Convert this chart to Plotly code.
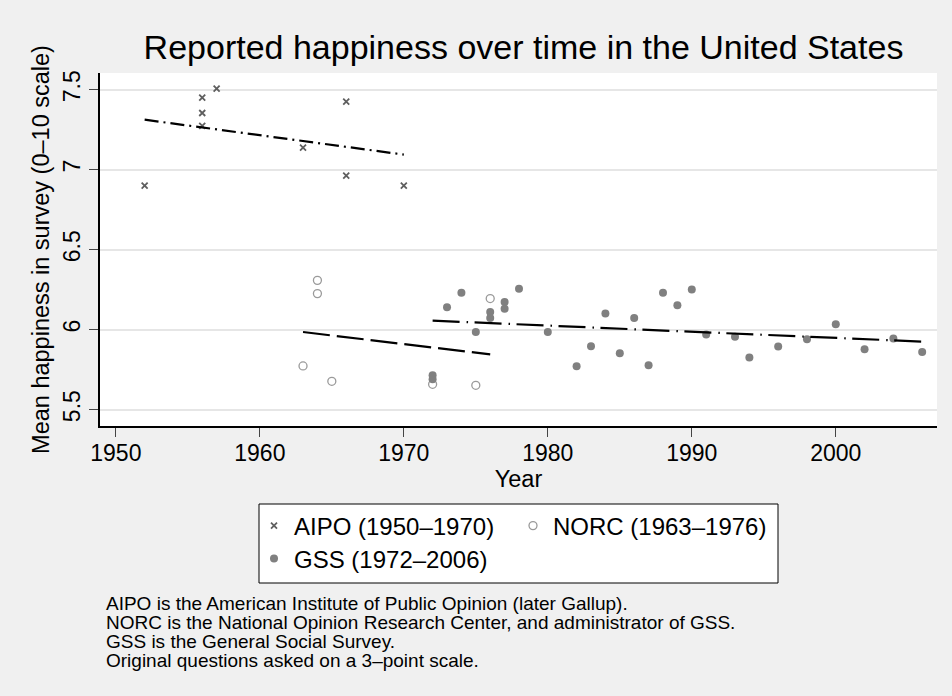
import plotly.graph_objects as go

# ---------------- data ----------------
aipo_year = [1952, 1956, 1956, 1956, 1957, 1963, 1966, 1966, 1970]
aipo_happy = [6.90, 7.45, 7.354, 7.273, 7.506, 7.137, 7.425, 6.963, 6.90]

norc_year = [1963, 1964, 1964, 1965, 1972, 1975, 1976]
norc_happy = [5.773, 6.308, 6.225, 5.677, 5.658, 5.652, 6.194]

gss_year = [1972, 1972, 1973, 1974, 1975, 1976, 1976, 1977, 1977, 1978, 1980,
            1982, 1983, 1984, 1985, 1986, 1987, 1988, 1989, 1990, 1991, 1993,
            1994, 1996, 1998, 2000, 2002, 2004, 2006]
gss_happy = [5.715, 5.69, 6.139, 6.231, 5.985, 6.110, 6.073, 6.173, 6.131, 6.256,
             5.985, 5.771, 5.896, 6.100, 5.852, 6.073, 5.777, 6.231, 6.153, 6.250,
             5.969, 5.956, 5.825, 5.894, 5.940, 6.033, 5.877, 5.944, 5.860]

# linear fit lines (end points)
aipo_fit_year = [1952, 1970]
aipo_fit_val = [7.312, 7.094]
norc_fit_year = [1963, 1976]
norc_fit_val = [5.985, 5.845]
gss_fit_year = [1972, 2006]
gss_fit_val = [6.056, 5.925]

x_ticks = [1950, 1960, 1970, 1980, 1990, 2000]
y_ticks = [5.5, 6.0, 6.5, 7.0, 7.5]
y_tick_text = ["5.5", "6", "6.5", "7", "7.5"]

title_text = "Reported happiness over time in the United States"
x_title = "Year"
y_title = "Mean happiness in survey (0\u201310 scale)"
legend_names = ["AIPO (1950\u20131970)", "NORC (1963\u20131976)", "GSS (1972\u20132006)"]
notes = [
    "AIPO is the American Institute of Public Opinion (later Gallup).",
    "NORC is the National Opinion Research Center, and administrator of GSS.",
    "GSS is the General Social Survey.",
    "Original questions asked on a 3\u2013point scale.",
]

# ---------------- figure ----------------
FONT = "Liberation Sans, Arial, Helvetica, sans-serif"
W, H = 952, 696
L, R, T, B = 100, 15, 73, 270
PW, PH = W - L - R, H - T - B


def px_x(p):
    return (p - L) / PW


def px_y(p):
    return (H - B - p) / PH


fig = go.Figure()

fig.add_trace(go.Scatter(
    x=aipo_year, y=aipo_happy, mode="markers", name=legend_names[0],
    marker=dict(symbol="x-thin", size=6, color="#5f5f5f",
                line=dict(width=1.8, color="#5f5f5f")),
    legend="legend"))
fig.add_trace(go.Scatter(
    x=norc_year, y=norc_happy, mode="markers", name=legend_names[1],
    marker=dict(symbol="circle-open", size=8, color="#9a9a9a",
                line=dict(width=1.3, color="#9a9a9a")),
    legend="legend2"))
fig.add_trace(go.Scatter(
    x=gss_year, y=gss_happy, mode="markers", name=legend_names[2],
    marker=dict(symbol="circle", size=8, color="#808080", line=dict(width=0)),
    legend="legend3"))

fig.add_trace(go.Scatter(
    x=aipo_fit_year, y=aipo_fit_val, mode="lines", showlegend=False,
    line=dict(color="black", width=2.2, dash="14px,5px,2px,5px")))
fig.add_trace(go.Scatter(
    x=norc_fit_year, y=norc_fit_val, mode="lines", showlegend=False,
    line=dict(color="black", width=2.2, dash="27px,7px")))
fig.add_trace(go.Scatter(
    x=gss_fit_year, y=gss_fit_val, mode="lines", showlegend=False,
    line=dict(color="black", width=2.2, dash="27px,7px,1.5px,6.5px")))

legend_common = dict(orientation="h", xanchor="left", yanchor="middle",
                     bgcolor="rgba(0,0,0,0)", borderwidth=0,
                     font=dict(family=FONT, size=24, color="black"))

annotations = []
note_y = [603, 622, 641, 660]
for txt, yy in zip(notes, note_y):
    annotations.append(dict(
        text=txt, xref="paper", yref="paper", x=px_x(104), y=px_y(yy),
        xanchor="left", yanchor="middle", showarrow=False,
        font=dict(family=FONT, size=19, color="black")))

fig.update_layout(
    width=W, height=H,
    margin=dict(l=L, r=R, t=T, b=B, autoexpand=False),
    paper_bgcolor="#f0f0f0", plot_bgcolor="white",
    font=dict(family=FONT, color="black"),
    title=dict(text=title_text, xref="container", x=523.5 / W, xanchor="center",
               yref="container", y=1 - 47 / H, yanchor="middle",
               font=dict(family=FONT, size=34, color="black")),
    xaxis=dict(range=[1948.9, 2007.03], tickvals=x_ticks,
               ticks="outside", ticklen=9, tickwidth=1, tickcolor="#444",
               ticklabelstandoff=-3,
               showline=True, linecolor="black", linewidth=1.5,
               showgrid=False, zeroline=False,
               tickfont=dict(family=FONT, size=23, color="black"),
               title=dict(text=x_title, standoff=0,
                          font=dict(family=FONT, size=23.5, color="black"))),
    yaxis=dict(range=[5.3975, 7.604], tickvals=y_ticks, ticktext=y_tick_text,
               tickangle=-90,
               ticks="outside", ticklen=9, tickwidth=1, tickcolor="#444",
               showline=True, linecolor="black", linewidth=1.5,
               showgrid=True, gridcolor="#e6e6e6", gridwidth=1.5,
               zeroline=False,
               tickfont=dict(family=FONT, size=23, color="black"),
               title=dict(text=y_title, standoff=3,
                          font=dict(family=FONT, size=23.5, color="black"))),
    legend=dict(x=px_x(254), y=px_y(526), **legend_common),
    legend2=dict(x=px_x(513), y=px_y(526), **legend_common),
    legend3=dict(x=px_x(254), y=px_y(559), **legend_common),
    shapes=[dict(type="rect", xref="paper", yref="paper",
                 x0=px_x(259), x1=px_x(778), y0=px_y(583), y1=px_y(504),
                 line=dict(color="black", width=1), fillcolor="white",
                 layer="below")],
    annotations=annotations,
)

fig.write_html("out.html", config={"displayModeBar": False},
               post_script="document.body.style.margin='0px';")
